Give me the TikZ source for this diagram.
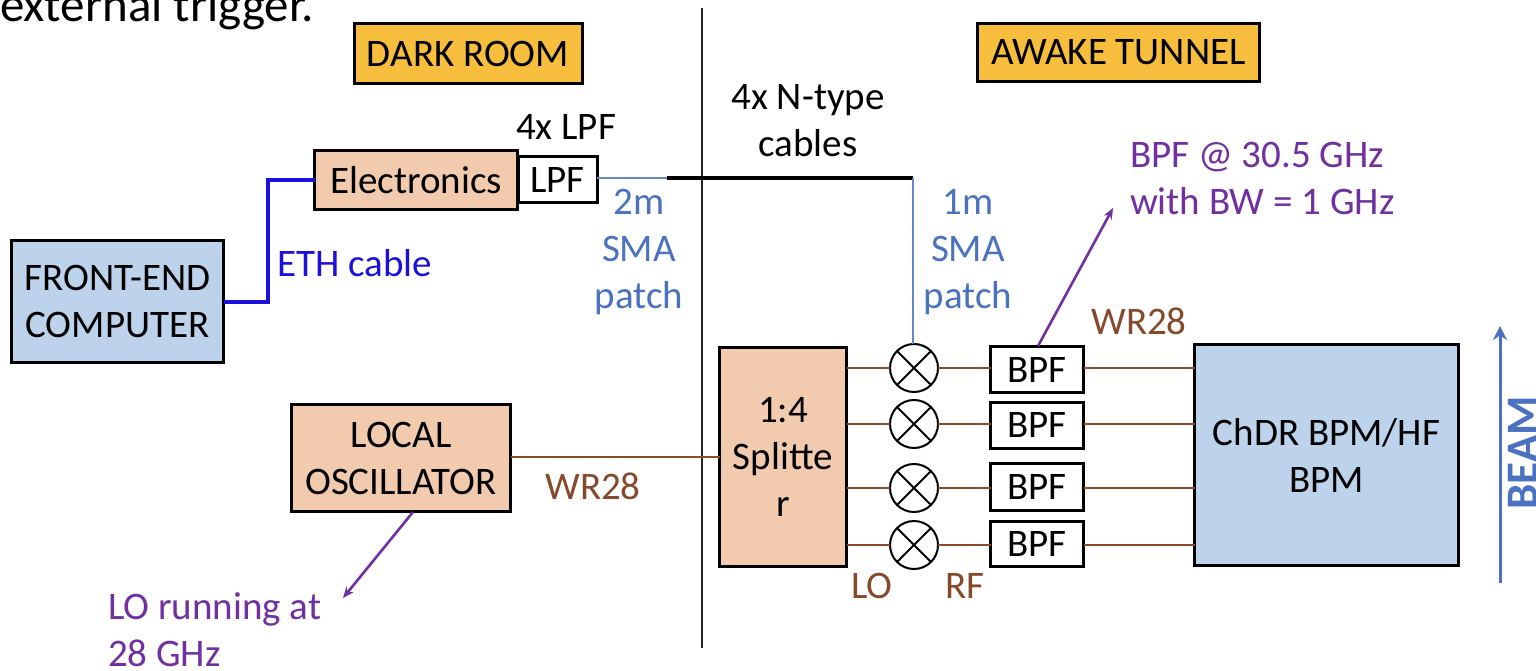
\documentclass[tikz,border=0pt]{standalone}
\usepackage{fontspec}
\setmainfont{Carlito}
\usetikzlibrary{arrows.meta}
\definecolor{orangefill}{HTML}{F2CBAE}
\definecolor{bluefill}{HTML}{BDD3EC}
\definecolor{yellowfill}{HTML}{F6BE3C}
\definecolor{wgbrown}{HTML}{8B4A2B}
\definecolor{lblbrown}{HTML}{85492B}
\definecolor{sma}{HTML}{4A72C0}
\definecolor{eth}{HTML}{1C10DC}
\definecolor{purp}{HTML}{7030A0}
\tikzset{
  blk/.style={draw=black,line width=3pt,inner sep=0pt,outer sep=0pt,align=center,text=black,font=\fontsize{39}{47}\selectfont},
  orangebox/.style={blk,fill=orangefill},
  bluebox/.style={blk,fill=bluefill},
  yellowbox/.style={blk,fill=yellowfill},
  whitebox/.style={blk,fill=white},
  mixer/.style={draw=black,line width=2pt,circle,fill=white,inner sep=0pt,outer sep=0pt,minimum size=48pt,
    path picture={\draw[black,line width=2pt]
      (path picture bounding box.north west)--(path picture bounding box.south east)
      (path picture bounding box.south west)--(path picture bounding box.north east);}},
  lbl/.style={inner sep=0pt,outer sep=0pt,align=center,font=\fontsize{39}{47}\selectfont},
  wg/.style={draw=wgbrown,line width=2.6pt},
  smaline/.style={draw=sma!85,line width=1.8pt},
  ethline/.style={draw=eth,line width=3.4pt},
  nline/.style={draw=black,line width=3.2pt},
  callout/.style={draw=purp,line width=2.6pt,-{Stealth[length=11pt,width=9pt]}},
}
\begin{document}
\begin{tikzpicture}[x=1pt,y=-1pt]
\useasboundingbox (0,0) rectangle (1536,671);
\node[lbl,anchor=base west,font=\fontsize{49}{50}\selectfont] (ext) at (0,22) {external trigger.};
\coordinate (divT) at (702,8);
\coordinate (divB) at (702,648);
\draw[black!85,line width=1.8pt] (divT)--(divB);
\node[yellowbox,minimum width=228pt,minimum height=60pt] (dark) at (468,53.5) {DARK ROOM};
\node[yellowbox,minimum width=282pt,minimum height=58pt] (tunnel) at (1118.5,52.5) {AWAKE TUNNEL};
\node[bluebox,minimum width=212pt,minimum height=122pt] (fe) at (117.5,301.5) {FRONT-END\\COMPUTER};
\node[orangebox,minimum width=203pt,minimum height=59pt] (elec) at (416,180) {Electronics};
\node[whitebox,minimum width=79pt,minimum height=46pt] (lpf) at (557.5,180) {LPF};
\node[orangebox,minimum width=219pt,minimum height=107pt] (lo) at (401,458) {LOCAL\\OSCILLATOR};
\node[orangebox,minimum width=127pt,minimum height=219pt] (split) at (783,457) {1:4\\Splitte\\r};
\node[bluebox,minimum width=264pt,minimum height=221pt] (bpm) at (1326.5,455) {ChDR BPM/HF\\BPM};
\node[mixer] (m1) at (914,368) {};
\node[mixer] (m2) at (914,424) {};
\node[mixer] (m3) at (914,488) {};
\node[mixer] (m4) at (914,545) {};
\node[whitebox,minimum width=93pt,minimum height=46pt] (b1) at (1037,369.5) {BPF};
\node[whitebox,minimum width=93pt,minimum height=46pt] (b2) at (1037,425) {BPF};
\node[whitebox,minimum width=93pt,minimum height=47pt] (b3) at (1037,487) {BPF};
\node[whitebox,minimum width=93pt,minimum height=45pt] (b4) at (1037,544) {BPF};
\foreach \i in {1,2,3,4}{
  \draw[wg] (m\i -| split.east)--(m\i.west);
  \draw[wg] (m\i.east)--(m\i -| b\i.west);
  \draw[wg] (m\i -| b\i.east)--(m\i -| bpm.west);
}
\draw[wg] (lo.east |- split.west)--(split.west);
\coordinate (nL) at (667,178);
\coordinate (nR) at (913,178);
\draw[smaline] (lpf.east |- nL)--(nL);
\draw[nline] (nL)--(nR);
\draw[smaline] (nR)--(m1.north -| nR);
\coordinate (ethA) at (268,302);
\coordinate (ethB) at (268,180);
\draw[ethline,line join=miter] (fe.east |- ethA)--(ethA)--(ethB)--(elec.west |- ethB);
\coordinate (loTip) at (343,598);
\coordinate (loStart) at (413,512);
\draw[callout] (loStart)--(loTip);
\coordinate (bpfTip) at (1113,208);
\coordinate (bpfStart) at (1038,346);
\draw[callout] (bpfStart)--(bpfTip);
\coordinate (beamS) at (1500,583);
\coordinate (beamE) at (1500,326);
\draw[draw=sma,line width=3pt,-{Stealth[length=14pt,width=14pt]}] (beamS)--(beamE);
\node[lbl,text=black] (lpflab) at (566,127) {4x LPF};
\node[lbl,text=black] (ntype) at (808,121) {4x N-type\\cables};
\node[lbl,text=eth,anchor=west] (ethlab) at (277,263) {ETH cable};
\node[lbl,text=sma] (sma2) at (639,252) {2m\\SMA\\patch};
\node[lbl,text=sma] (sma1) at (968,252) {1m\\SMA\\patch};
\node[lbl,text=purp,anchor=west,align=left] (bpflab) at (1130,178) {BPF @ 30.5 GHz\\with BW = 1 GHz};
\node[lbl,text=lblbrown] (wr1) at (1139,321) {WR28};
\node[lbl,text=lblbrown] (wr2) at (593,486) {WR28};
\node[lbl,text=lblbrown] (lolab) at (872,586) {LO};
\node[lbl,text=lblbrown] (rflab) at (965,586) {RF};
\node[lbl,text=purp,anchor=west,align=left] (lorun) at (108,630) {LO running at\\28 GHz};
\node[lbl,text=sma,rotate=90,font=\fontsize{45}{50}\selectfont\bfseries,anchor=base] (beam) at (1537,453) {BEAM};
\end{tikzpicture}
\end{document}
